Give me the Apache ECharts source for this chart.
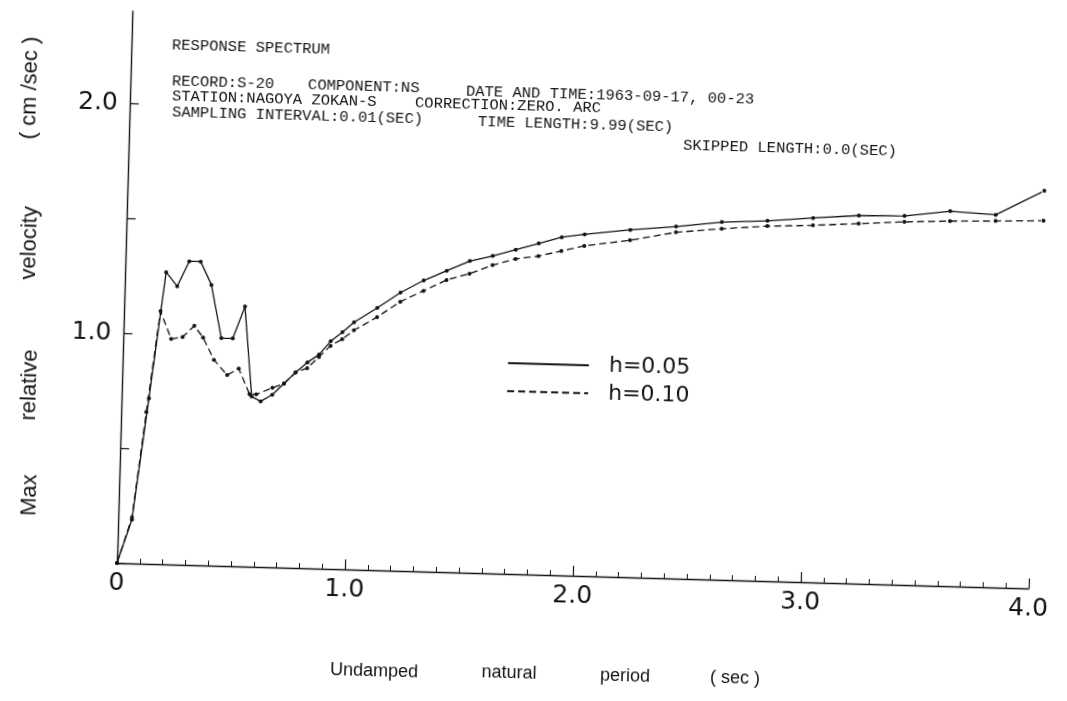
<!DOCTYPE html>
<html>
<head>
<meta charset="utf-8">
<script src="https://cdn.jsdelivr.net/npm/echarts@6/dist/echarts.min.js"></script>
<style>
html, body { margin: 0; padding: 0; background: #fff; overflow: hidden; }
/* the scanned plot sits slightly skewed on the page */
#chart { width: 1067px; height: 701px; transform: rotate(1.6deg); transform-origin: 117px 563px; }
</style>
</head>
<body>
<div id="chart"></div>
<script>
// undamped natural period (sec) / max relative velocity (cm/sec)
const periodA = [0, 0.06, 0.12, 0.18, 0.23, 0.28, 0.33, 0.38, 0.43, 0.48,
  0.53, 0.57, 0.61, 0.66, 0.71, 0.76, 0.81, 0.86, 0.91, 0.96,
  1.01, 1.11, 1.21, 1.31, 1.41, 1.51, 1.61, 1.71, 1.81, 1.91,
  2.01, 2.21, 2.41, 2.61, 2.81, 3.01, 3.21, 3.41, 3.61, 3.81, 4.02];
const velA = [0, 0.19, 0.72, 1.27, 1.21, 1.32, 1.32, 1.22, 0.99, 0.99,
  1.13, 0.74, 0.72, 0.75, 0.80, 0.85, 0.895, 0.93, 0.99, 1.03,
  1.075, 1.14, 1.21, 1.265, 1.31, 1.355, 1.38, 1.41, 1.44, 1.47,
  1.485, 1.51, 1.53, 1.555, 1.566, 1.584, 1.60, 1.604, 1.63, 1.62, 1.73];

const periodB = [0, 0.06, 0.11, 0.16, 0.21, 0.26, 0.31, 0.35, 0.40, 0.46,
  0.51, 0.56, 0.59, 0.66, 0.71, 0.76, 0.81, 0.86, 0.91, 0.96,
  1.01, 1.11, 1.21, 1.31, 1.41, 1.51, 1.61, 1.71, 1.81, 1.91,
  2.01, 2.21, 2.41, 2.61, 2.81, 3.01, 3.21, 3.41, 3.61, 3.81, 4.02];
const velB = [0, 0.20, 0.66, 1.10, 0.98, 0.99, 1.04, 0.99, 0.895, 0.83,
  0.86, 0.75, 0.75, 0.78, 0.80, 0.85, 0.87, 0.92, 0.97, 1.00,
  1.04, 1.10, 1.17, 1.22, 1.27, 1.30, 1.34, 1.37, 1.385, 1.41,
  1.435, 1.465, 1.505, 1.526, 1.543, 1.552, 1.565, 1.578, 1.587, 1.593, 1.60];

const seriesNames = ['h=0.05', 'h=0.10'];
const xTickLabels = {0: '0', 1: '1.0', 2: '2.0', 3: '3.0', 4: '4.0'};
const yTickLabels = {1: '1.0', 2: '2.0'};

const headerLines = [
  ['RESPONSE SPECTRUM', 172, 45],
  ['RECORD:S-20', 172, 81],
  ['COMPONENT:NS', 308, 85],
  ['DATE AND TIME:1963-09-17, 00-23', 466, 91],
  ['STATION:NAGOYA ZOKAN-S', 172, 96],
  ['CORRECTION:ZERO. ARC', 415, 103],
  ['SAMPLING INTERVAL:0.01(SEC)', 172, 112],
  ['TIME LENGTH:9.99(SEC)', 478, 122],
  ['SKIPPED LENGTH:0.0(SEC)', 683, 146]
];
const yTitleWords = [['Max', 30, 495], ['relative', 30, 385], ['velocity', 30, 243], ['( cm /sec )', 30, 88]];
const xTitleWords = [['Undamped', 374, 671], ['natural', 509, 673], ['period', 625, 676], ['( sec )', 735, 678]];

// page position -> position inside the rotated chart box
const ang = 1.6 * Math.PI / 180, sn = Math.sin(ang), cs = Math.cos(ang);
function place(x, y) {
  const dx = x - 117, dy = y - 563;
  return [117 + dx * cs + dy * sn, 563 - dx * sn + dy * cs];
}

const ink = '#141414';
const graphics = [];
headerLines.forEach(([t, x, y]) => {
  const p = place(x, y);
  graphics.push({type: 'text', x: p[0], y: p[1], silent: true,
    style: {text: t, fill: ink, font: '15.5px "Liberation Mono", monospace', align: 'left', verticalAlign: 'middle'}});
});
yTitleWords.forEach(([t, x, y]) => {
  const p = place(x, y);
  graphics.push({type: 'text', x: p[0], y: p[1], rotation: Math.PI / 2, silent: true,
    style: {text: t, fill: ink, font: '22px "Liberation Sans", Arial, sans-serif', align: 'center', verticalAlign: 'middle'}});
});
xTitleWords.forEach(([t, x, y]) => {
  const p = place(x, y);
  graphics.push({type: 'text', x: p[0], y: p[1], silent: true,
    style: {text: t, fill: ink, font: '18px "Liberation Sans", Arial, sans-serif', align: 'center', verticalAlign: 'middle'}});
});

const legPos = place(507, 361);

const chart = echarts.init(document.getElementById('chart'));
chart.setOption({
  backgroundColor: '#fff',
  animation: false,
  grid: {left: 117, right: 38, top: 11, bottom: 138},
  legend: {
    data: seriesNames,
    orient: 'vertical',
    left: legPos[0], top: legPos[1] - 11,
    padding: 0,
    itemWidth: 81, itemHeight: 22, itemGap: 2,
    itemStyle: {opacity: 0},
    textStyle: {color: ink, fontSize: 22, lineHeight: 22, fontFamily: '"DejaVu Sans", sans-serif', padding: [4, 0, 0, 15]}
  },
  xAxis: {
    type: 'value', min: 0, max: 4, interval: 1,
    axisLine: {lineStyle: {color: ink, width: 1.4}},
    axisTick: {inside: true, length: 10, lineStyle: {color: ink, width: 1.2}},
    minorTick: {show: true, splitNumber: 10, length: 5, lineStyle: {color: ink, width: 1}},
    splitLine: {show: false},
    axisLabel: {margin: 8, color: ink, fontSize: 25, fontFamily: '"DejaVu Sans", sans-serif',
      formatter: v => xTickLabels[Math.round(v * 10) / 10] || ''}
  },
  yAxis: {
    type: 'value', min: 0, max: 2.4, interval: 0.5,
    axisLine: {show: true, lineStyle: {color: ink, width: 1.4}},
    axisTick: {inside: true, length: 9, lineStyle: {color: ink, width: 1.2}},
    splitLine: {show: false},
    axisLabel: {margin: 12, color: ink, fontSize: 25, fontFamily: '"DejaVu Sans", sans-serif',
      showMaxLabel: false,
      formatter: v => yTickLabels[Math.round(v * 10) / 10] || ''}
  },
  series: [
    {
      name: seriesNames[0], type: 'line', clip: false,
      data: periodA.map((p, i) => [p, velA[i]]),
      symbol: 'circle', symbolSize: 4,
      itemStyle: {color: ink},
      lineStyle: {color: ink, width: 1.3}
    },
    {
      name: seriesNames[1], type: 'line', clip: false,
      data: periodB.map((p, i) => [p, velB[i]]),
      symbol: 'circle', symbolSize: 4,
      itemStyle: {color: ink},
      lineStyle: {color: ink, width: 1.3, type: [7, 4]}
    }
  ],
  graphic: graphics
});
</script>
</body>
</html>
